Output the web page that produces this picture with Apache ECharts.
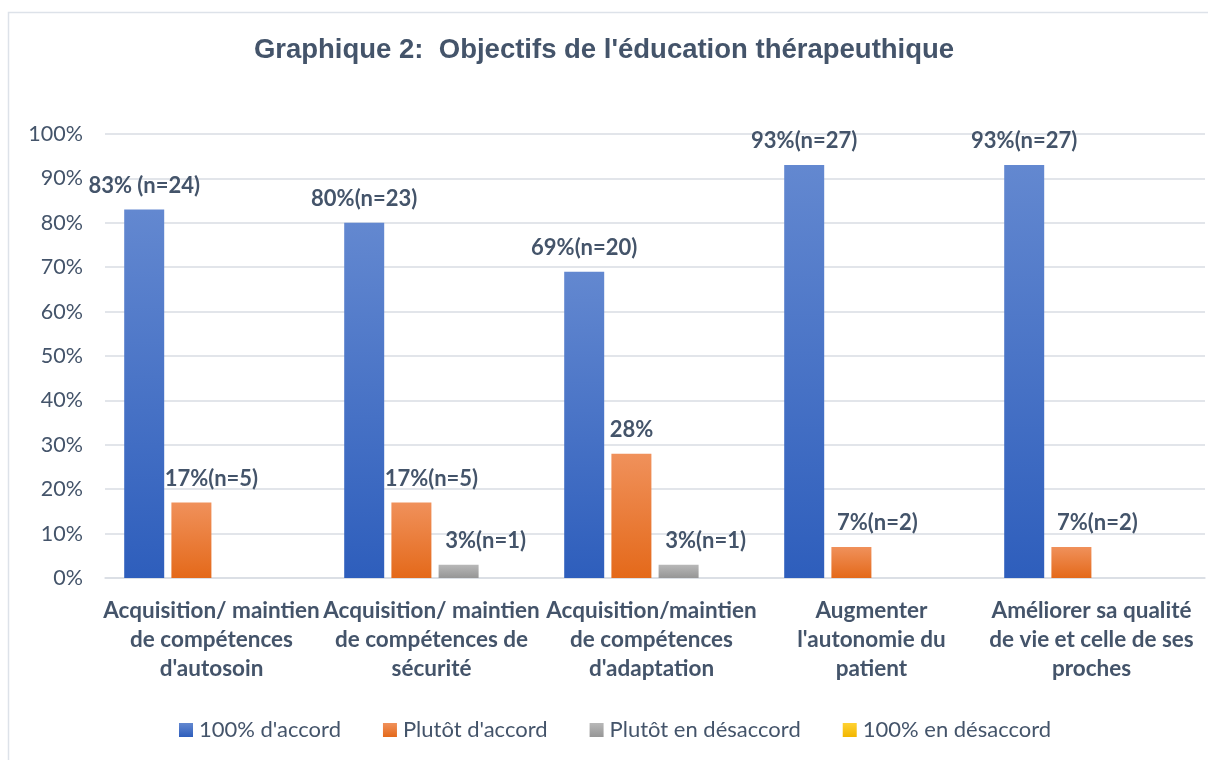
<!DOCTYPE html>
<html>
<head>
<meta charset="utf-8">
<script src="https://cdn.jsdelivr.net/npm/echarts@6/dist/echarts.min.js"></script>
<style>
html,body{margin:0;padding:0;background:#fff;}
#chart{width:1208px;height:760px;}
</style>
</head>
<body>
<div id="chart"></div>
<script>
const categories = [
  "Acquisition/ maintien\nde compétences\nd'autosoin",
  "Acquisition/ maintien\nde compétences de\nsécurité",
  "Acquisition/maintien\nde compétences\nd'adaptation",
  "Augmenter\nl'autonomie du\npatient",
  "Améliorer sa qualité\nde vie et celle de ses\nproches"
];
const seriesNames = ["100% d'accord", "Plutôt d'accord", "Plutôt en désaccord", "100% en désaccord"];
const valTotalAccord = [83, 80, 69, 93, 93];
const valPlutotAccord = [17, 17, 28, 7, 7];
const valPlutotDesaccord = [0, 3, 3, 0, 0];
const valTotalDesaccord = [0, 0, 0, 0, 0];
const lblTotalAccord = ["83% (n=24)", "80%(n=23)", "69%(n=20)", "93%(n=27)", "93%(n=27)"];
const lblPlutotAccord = ["17%(n=5)", "17%(n=5)", "28%", "7%(n=2)", "7%(n=2)"];
const lblPlutotDesaccord = ["", "3%(n=1)", "3%(n=1)", "", ""];
const lblTotalDesaccord = ["", "", "", "", ""];
const yTicks = [0, 10, 20, 30, 40, 50, 60, 70, 80, 90, 100];

// label horizontal nudges (layout only)
const dxPlutotAccord = [20, 20, 0, 26, 26];
const dxPlutotDesaccord = [0, 27, 27, 0, 0];

const TXT = '#44546A';
const FONT = 'Lato, "Noto Sans", sans-serif';

function grad(top, bottom){
  return new echarts.graphic.LinearGradient(0,0,0,1,[{offset:0,color:top},{offset:1,color:bottom}]);
}
function mkData(vals, lbls, dx){
  return vals.map((v,i)=>({
    value: v,
    label: {show: !!lbls[i], formatter: lbls[i] || '', offset: [dx ? dx[i] : 0, 0]}
  }));
}
const labelBase = {
  show: true, position: 'top', distance: 13,
  color: TXT, fontFamily: FONT, fontWeight: 'bold', fontSize: 22
};

const chart = echarts.init(document.getElementById('chart'), null, {renderer:'canvas'});
chart.setOption({
  backgroundColor: '#fff',
  animation: false,
  graphic: [{
    type: 'rect', silent: true,
    shape: {x: 8.5, y: 12.5, width: 1400, height: 900},
    style: {fill: 'none', stroke: '#DDE2E9', lineWidth: 1.5}
  }],
  title: {
    text: "Graphique 2:  Objectifs de l'éducation thérapeuthique",
    left: 'center', top: 31,
    textStyle: {color: TXT, fontFamily: '"Liberation Sans", Arial, sans-serif', fontWeight: 'bold', fontSize: 27.5}
  },
  legend: {
    data: seriesNames,
    left: 174, top: 714,
    itemWidth: 14, itemHeight: 14, itemGap: 42,
    icon: 'rect',
    textStyle: {color: TXT, fontFamily: FONT, fontSize: 22, padding: [0,0,0,1]}
  },
  grid: {left: 105, right: 3, top: 134, bottom: 182, containLabel: false},
  xAxis: {
    type: 'category', data: categories,
    axisLine: {lineStyle: {color: '#D9DDE3', width: 1.5}},
    axisTick: {show: false},
    axisLabel: {
      interval: 0, margin: 18, color: TXT, fontFamily: FONT,
      fontWeight: 'bold', fontSize: 22.5, lineHeight: 29, align: 'center',
      padding: [0, 7, 0, 0]
    }
  },
  yAxis: {
    type: 'value', min: yTicks[0], max: yTicks[yTicks.length-1], interval: 10,
    axisLine: {show: false}, axisTick: {show: false},
    splitLine: {lineStyle: {color: '#D9DDE3', width: 1.5}},
    axisLabel: {formatter: '{value}%', margin: 22, color: TXT, fontFamily: FONT, fontSize: 21.5}
  },
  series: [
    {name: seriesNames[0], type: 'bar', barWidth: 40, barGap: '18%',
     itemStyle: {color: grad('#6388D0', '#2E5EBC')},
     label: labelBase, data: mkData(valTotalAccord, lblTotalAccord)},
    {name: seriesNames[1], type: 'bar', barWidth: 40, barGap: '18%',
     itemStyle: {color: grad('#F0915B', '#E4691A')},
     label: labelBase, data: mkData(valPlutotAccord, lblPlutotAccord, dxPlutotAccord)},
    {name: seriesNames[2], type: 'bar', barWidth: 40, barGap: '18%',
     itemStyle: {color: grad('#B8B8B8', '#969696')},
     label: labelBase, data: mkData(valPlutotDesaccord, lblPlutotDesaccord, dxPlutotDesaccord)},
    {name: seriesNames[3], type: 'bar', barWidth: 40, barGap: '18%',
     itemStyle: {color: grad('#FFD233', '#F2B600')},
     label: labelBase, data: mkData(valTotalDesaccord, lblTotalDesaccord)}
  ]
});
</script>
</body>
</html>
